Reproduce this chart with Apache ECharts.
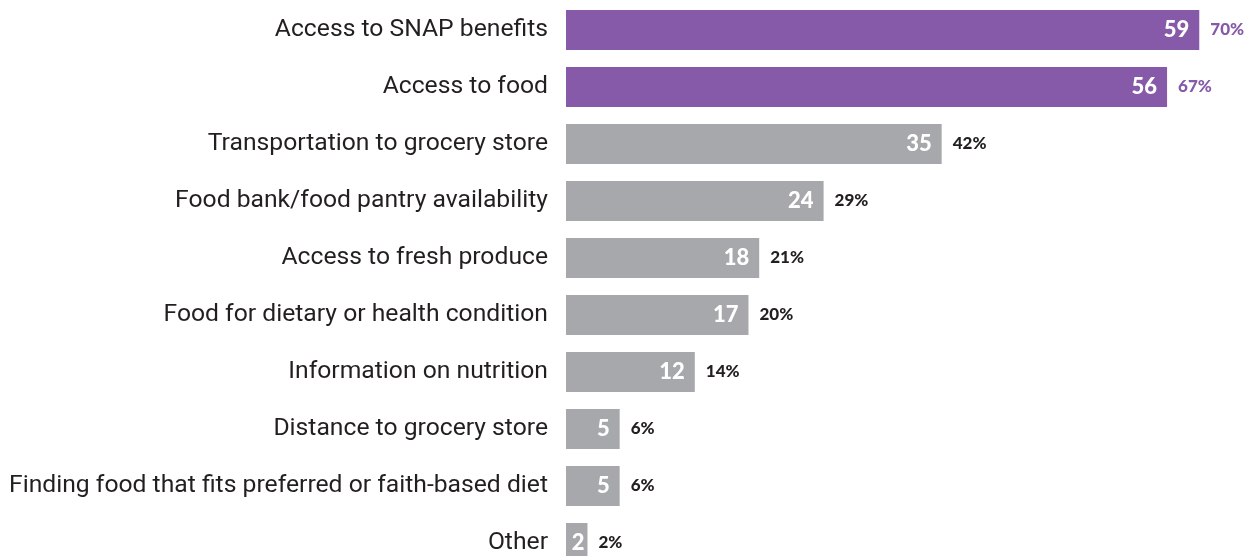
<!DOCTYPE html>
<html>
<head>
<meta charset="utf-8">
<script src="https://cdn.jsdelivr.net/npm/echarts@6/dist/echarts.min.js"></script>
<style>
  html, body { margin: 0; padding: 0; background: #ffffff; overflow: hidden; }
  #chart { width: 1256px; height: 600px; }
</style>
</head>
<body>
<div id="chart"></div>
<script>
// Food access concerns: respondent counts and share of respondents
const categories = [
  'Access to SNAP benefits',
  'Access to food',
  'Transportation to grocery store',
  'Food bank/food pantry availability',
  'Access to fresh produce',
  'Food for dietary or health condition',
  'Information on nutrition',
  'Distance to grocery store',
  'Finding food that fits preferred or faith-based diet',
  'Other'
];
const counts = [59, 56, 35, 24, 18, 17, 12, 5, 5, 2];
const percents = [70, 67, 42, 29, 21, 20, 14, 6, 6, 2];
const highlighted = [true, true, false, false, false, false, false, false, false, false];

const PURPLE = '#865aa8';
const GREY = '#a7a8ab';
const DARK = '#231f20';
const LABEL_FONT = 'Roboto, "Noto Sans", sans-serif';
const NUM_FONT = 'Lato, "Open Sans", sans-serif';

const chart = echarts.init(document.getElementById('chart'));

// Very short bars keep their count tucked in close to the bar end
const countData = counts.map((v, i) => ({
  value: v,
  itemStyle: { color: highlighted[i] ? PURPLE : GREY },
  label: { distance: v < 3 ? 3 : 10 }
}));
const pctData = counts.map((v, i) => ({
  value: v,
  label: { color: highlighted[i] ? PURPLE : DARK }
}));

chart.setOption({
  animation: false,
  grid: { left: 566, top: 1.5, width: 644, height: 570, containLabel: false },
  xAxis: {
    type: 'value', min: 0, max: 60,
    show: false
  },
  yAxis: {
    type: 'category',
    data: categories,
    inverse: true,
    axisLine: { show: false },
    axisTick: { show: false },
    splitLine: { show: false },
    axisLabel: {
      fontFamily: LABEL_FONT, fontSize: 24.7, color: DARK, margin: 18
    }
  },
  series: [
    {
      type: 'bar',
      data: countData,
      barWidth: 40,
      label: {
        show: true,
        position: 'insideRight',
        color: '#ffffff',
        fontFamily: NUM_FONT,
        fontWeight: 900,
        fontSize: 22
      }
    },
    {
      type: 'bar',
      data: pctData,
      barWidth: 40,
      barGap: '-100%',
      itemStyle: { color: 'rgba(0,0,0,0)' },
      label: {
        show: true,
        position: 'right',
        distance: 11,
        fontFamily: NUM_FONT,
        fontWeight: 900,
        fontSize: 17,
        formatter: p => percents[p.dataIndex] + '%'
      },
      silent: true
    }
  ]
});
</script>
</body>
</html>
